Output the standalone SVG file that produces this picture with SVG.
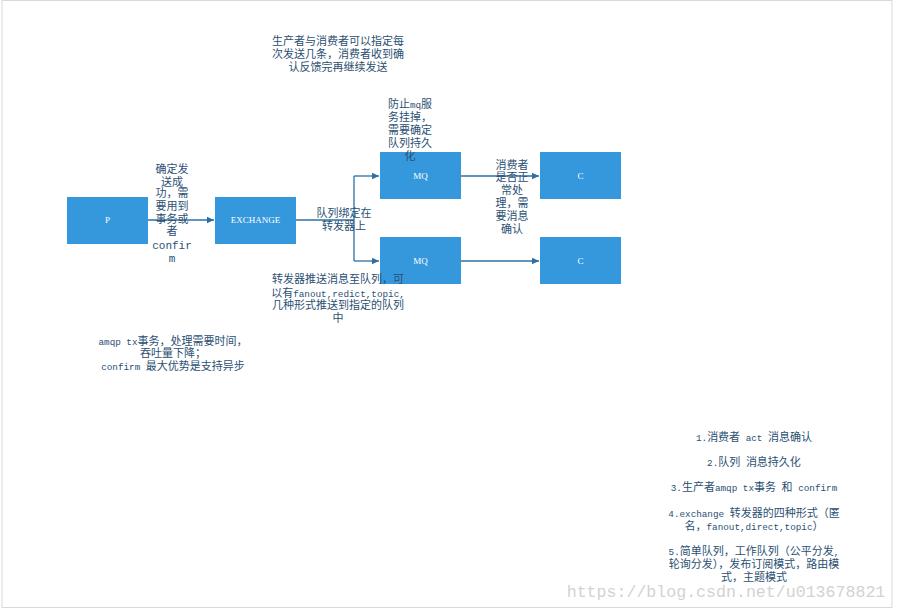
<svg xmlns="http://www.w3.org/2000/svg" width="897" height="611" viewBox="0 0 897 611">
<style>
.box{fill:#3598dc;}
.bl{font-family:"Liberation Serif","Noto Sans CJK SC",serif;font-size:9px;fill:#ffffff;text-anchor:middle;}
.t{font-family:"Liberation Mono","Noto Sans CJK SC",monospace;font-size:11px;fill:#2b4f72;text-anchor:middle;}
.m{font-size:9.3px;}
.ln{stroke:#2e6fa3;stroke-width:1.3;fill:none;}
</style>
<defs>
<marker id="ah" markerWidth="8" markerHeight="8" refX="7" refY="4" orient="auto" markerUnits="userSpaceOnUse">
<path d="M0,0.8 L7,4 L0,7.2 Z" fill="#2e6fa3"/>
</marker>
</defs>
<rect x="2" y="0.5" width="890" height="607" fill="#ffffff" stroke="#d9d9d9" stroke-width="1"/>
<g id="connectors">
<path class="ln" d="M148,220 L214,220" marker-end="url(#ah)"/>
<path class="ln" d="M296,220 L354,220"/>
<path class="ln" d="M354,261 L354,176"/>
<path class="ln" d="M354,176 L379,176" marker-end="url(#ah)"/>
<path class="ln" d="M354,261 L379,261" marker-end="url(#ah)"/>
<path class="ln" d="M461,176 L539,176" marker-end="url(#ah)"/>
<path class="ln" d="M461,261 L539,261" marker-end="url(#ah)"/>
</g>
<g id="node-p"><rect class="box" x="67" y="197" width="81" height="47"/><text class="bl" x="107.5" y="223">P</text></g>
<g id="node-exchange"><rect class="box" x="215" y="197" width="81" height="47"/><text class="bl" x="255.5" y="223">EXCHANGE</text></g>
<g id="node-mq1"><rect class="box" x="380" y="152" width="81" height="47"/><text class="bl" x="420.5" y="179">MQ</text></g>
<g id="node-mq2"><rect class="box" x="380" y="237" width="81" height="47"/><text class="bl" x="420.5" y="264">MQ</text></g>
<g id="node-c1"><rect class="box" x="540" y="152" width="81" height="47"/><text class="bl" x="580.5" y="179">C</text></g>
<g id="node-c2"><rect class="box" x="540" y="237" width="81" height="47"/><text class="bl" x="580.5" y="264">C</text></g>
<g id="labels">
<text class="t" x="172" y="173">确定发</text>
<text class="t" x="172" y="186">送成</text>
<text class="t" x="172" y="197">功，需</text>
<text class="t" x="172" y="210">要用到</text>
<text class="t" x="172" y="223">事务或</text>
<text class="t" x="172" y="235">者</text>
<text class="t" x="172" y="249">confir</text>
<text class="t" x="172" y="262">m</text>
<text class="t" x="338" y="45">生产者与消费者可以指定每</text>
<text class="t" x="338" y="58">次发送几条，消费者收到确</text>
<text class="t" x="338" y="71">认反馈完再继续发送</text>
<text class="t" x="410" y="108">防止<tspan class="m">mq</tspan>服</text>
<text class="t" x="410" y="121">务挂掉，</text>
<text class="t" x="410" y="134">需要确定</text>
<text class="t" x="410" y="147">队列持久</text>
<text class="t" x="410" y="160">化</text>
<text class="t" x="344" y="217">队列绑定在</text>
<text class="t" x="344" y="230">转发器上</text>
<text class="t" x="512" y="169">消费者</text>
<text class="t" x="512" y="181">是否正</text>
<text class="t" x="512" y="194">常处</text>
<text class="t" x="512" y="207">理，需</text>
<text class="t" x="512" y="220">要消息</text>
<text class="t" x="512" y="233">确认</text>
<text class="t" x="338" y="283">转发器推送消息至队列，可</text>
<text class="t" x="338" y="297">以有<tspan class="m">fanout,redict,topic,</tspan></text>
<text class="t" x="338" y="309">几种形式推送到指定的队列</text>
<text class="t" x="338" y="322">中</text>
<text class="t" x="173" y="345"><tspan class="m">amqp tx</tspan>事务，处理需要时间，</text>
<text class="t" x="173" y="357">吞吐量下降；</text>
<text class="t" x="173" y="370"><tspan class="m">confirm </tspan>最大优势是支持异步</text>
<text class="t" x="754" y="441"><tspan class="m">1.</tspan>消费者<tspan class="m"> act </tspan>消息确认</text>
<text class="t" x="754" y="466"><tspan class="m">2.</tspan>队列<tspan class="m"> </tspan>消息持久化</text>
<text class="t" x="754" y="491"><tspan class="m">3.</tspan>生产者<tspan class="m">amqp tx</tspan>事务<tspan class="m"> </tspan>和<tspan class="m"> confirm</tspan></text>
<text class="t" x="754" y="517"><tspan class="m">4.exchange </tspan>转发器的四种形式（匿</text>
<text class="t" x="754" y="530">名，<tspan class="m">fanout,direct,topic</tspan>）</text>
<text class="t" x="754" y="555"><tspan class="m">5.</tspan>简单队列，工作队列（公平分发<tspan class="m">,</tspan></text>
<text class="t" x="754" y="568">轮询分发），发布订阅模式，路由模</text>
<text class="t" x="754" y="581">式，主题模式</text>
</g>
<text x="726" y="597" font-family="Liberation Mono,monospace" font-size="16.6px" fill="#d2d2d2" text-anchor="middle">https://blog.csdn.net/u013678821</text>
</svg>
